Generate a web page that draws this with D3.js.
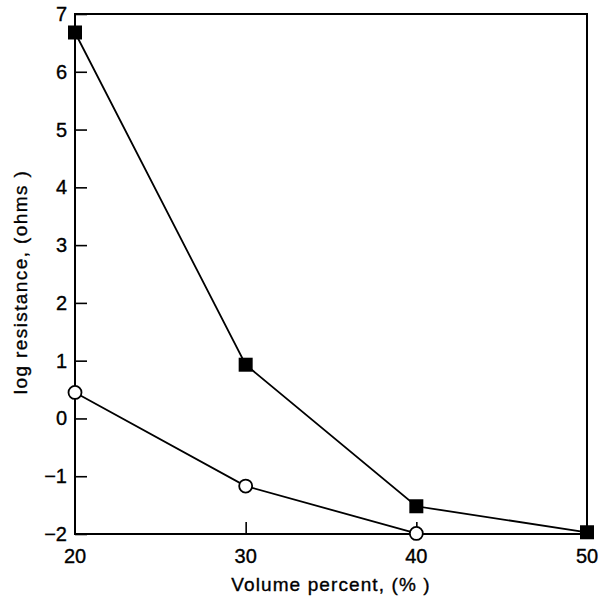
<!DOCTYPE html>
<html><head><meta charset="utf-8">
<script src="https://cdn.jsdelivr.net/npm/d3@7"></script>
<style>body{margin:0;background:#fff}svg{display:block}text{font-family:"Liberation Sans",Arial,sans-serif;fill:#000;stroke:#000;stroke-width:0.35px}</style>
</head><body>
<script>
const xTicks = [20, 30, 40, 50];
const yTicks = [-2, -1, 0, 1, 2, 3, 4, 5, 6, 7];
const squareX = [20, 30, 40, 50];
const squareY = [6.68, 0.93, -1.52, -1.97];
const circleX = [20, 30, 40];
const circleY = [0.45, -1.17, -1.99];
const xLabel = "Volume percent, (% )";
const yLabel = "log resistance, (ohms )";

const W = 599, H = 599;
const L = 75, R = 587, T = 14, B = 534;
const svg = d3.select("body").append("svg").attr("width", W).attr("height", H);
const x = d3.scaleLinear().domain([20, 50]).range([L, R]);
const y = d3.scaleLinear().domain([-2, 7]).range([B, T]);

// frame
svg.append("rect").attr("x", L).attr("y", T).attr("width", R - L).attr("height", B - T)
  .attr("fill", "none").attr("stroke", "#000").attr("stroke-width", 2);

// y axis with inward ticks
const ya = svg.append("g").attr("transform", `translate(${L},0)`)
  .call(d3.axisRight(y).tickValues(yTicks).tickSize(12).tickFormat(""));
ya.select(".domain").remove();
ya.selectAll("line").attr("stroke-width", 1.6);
svg.selectAll(".ylab").data(yTicks).enter().append("text")
  .attr("x", L - 8).attr("y", d => y(d) + 7).attr("text-anchor", "end")
  .attr("font-size", 20).text(d => d < 0 ? "\u2212" + Math.abs(d) : d);

// x axis with inward ticks
const xa = svg.append("g").attr("transform", `translate(0,${B})`)
  .call(d3.axisTop(x).tickValues(xTicks.slice(1, -1)).tickSize(12).tickFormat(""));
xa.select(".domain").remove();
xa.selectAll("line").attr("stroke-width", 1.6);
svg.selectAll(".xlab").data(xTicks).enter().append("text")
  .attr("x", d => x(d)).attr("y", B + 29).attr("text-anchor", "middle")
  .attr("font-size", 20).text(d => d);

svg.append("text").attr("x", 331).attr("y", 591).attr("text-anchor", "middle")
  .attr("font-size", 19).attr("letter-spacing", 1.1).text(xLabel);
svg.append("text").attr("transform", `translate(27,282) rotate(-90)`).attr("text-anchor", "middle")
  .attr("font-size", 19).attr("letter-spacing", 1.4).text(yLabel);

const line = d3.line().x(d => x(d[0])).y(d => y(d[1]));
const sq = squareX.map((v, i) => [v, squareY[i]]);
const ci = circleX.map((v, i) => [v, circleY[i]]);
svg.append("path").attr("d", line(sq)).attr("fill", "none").attr("stroke", "#000").attr("stroke-width", 1.8);
svg.append("path").attr("d", line(ci)).attr("fill", "none").attr("stroke", "#000").attr("stroke-width", 1.8);

svg.selectAll(".sq").data(sq).enter().append("rect")
  .attr("x", d => x(d[0]) - 7).attr("y", d => y(d[1]) - 7).attr("width", 14).attr("height", 14)
  .attr("fill", "#000");
svg.selectAll(".ci").data(ci).enter().append("circle")
  .attr("cx", d => x(d[0])).attr("cy", d => y(d[1])).attr("r", 6.5)
  .attr("fill", "#fff").attr("stroke", "#000").attr("stroke-width", 1.8);
</script>
</body></html>
